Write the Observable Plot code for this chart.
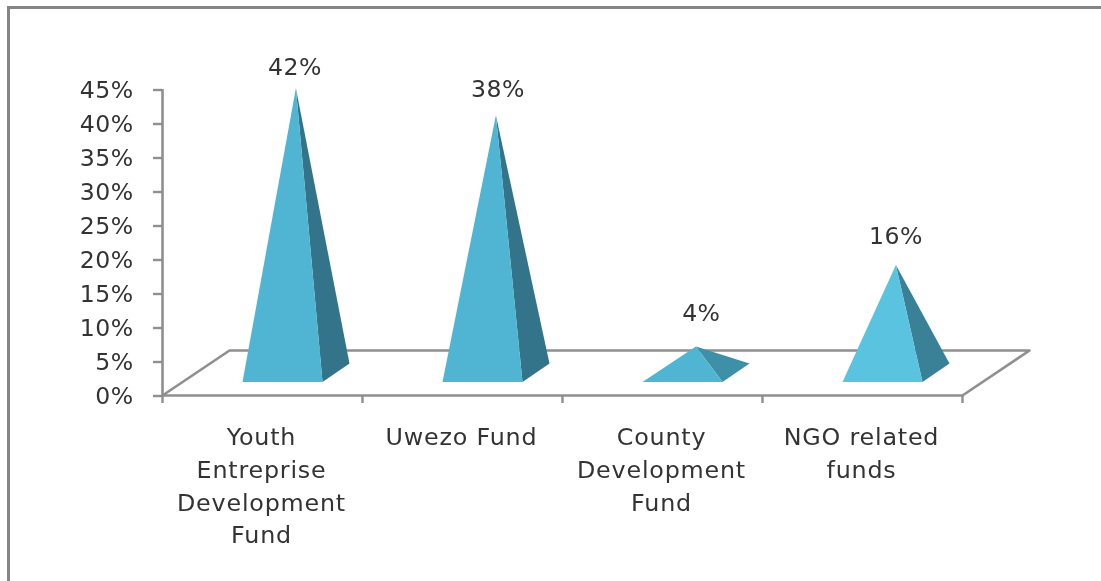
<!DOCTYPE html>
<html>
<head>
<meta charset="utf-8">
<script src="https://cdn.jsdelivr.net/npm/d3@7"></script>
<script src="https://cdn.jsdelivr.net/npm/@observablehq/plot@0.6"></script>
<style>
html,body{margin:0;padding:0;background:#fff;overflow:hidden}
#wrap{position:relative;width:1101px;height:581px;overflow:hidden}
#frame{position:absolute;left:7px;top:6px;width:1200px;height:700px;border-left:3px solid #858585;border-top:3px solid #858585;box-sizing:border-box}
svg{display:block;position:absolute;left:0;top:0;background:transparent!important;filter:blur(0.5px)}
svg text{letter-spacing:0.4px}
svg .cats text{letter-spacing:0.8px}
</style>
</head>
<body>
<div id="wrap"><div id="frame"></div></div>
<script>
const categories = ["Youth\nEntreprise\nDevelopment\nFund", "Uwezo Fund", "County\nDevelopment\nFund", "NGO related\nfunds"];
const values = [42, 38, 4, 16];
const yTicks = [0, 5, 10, 15, 20, 25, 30, 35, 40, 45];
const xTicks = [0, 1, 2, 3, 4];

// 3-D look, expressed in axis units
const depthX = 0.335, depthY = 6.62;
const baseLeft = 0.4, baseRight = 0.8, baseFront = 2, baseBack = 4.7, backRight = 0.935, apexX = 0.667, apexLift = 3.2;
const frontColors = ["#4fb5d3", "#4fb5d3", "#4fb5d3", "#5ac3e0"];
const sideColors = ["#33748a", "#33748a", "#3e90a8", "#3a8198"];
const labelLift = [6.2, 7, 8, 7.4];
const labelNudge = [-0.005, 0.01, 0.027, 0];

const floor = [[0, 0], [depthX, depthY], [4 + depthX, depthY], [4, 0]].map(([x, y]) => ({x, y}));
const faces = values.flatMap((v, i) => {
  const apex = {x: i + apexX, y: v + apexLift};
  const L = {x: i + baseLeft, y: baseFront}, R = {x: i + baseRight, y: baseFront}, B = {x: i + backRight, y: baseBack};
  return [
    ...[R, B, apex].map(p => ({...p, face: `side${i}`, color: sideColors[i]})),
    ...[L, R, apex].map(p => ({...p, face: `front${i}`, color: frontColors[i]}))
  ];
});
const rows = values.map((v, i) => ({i, v, cat: categories[i]}));
const ink = "#333333", axisGrey = "#8f8f8f", fs = 23.6, catFs = 23.8;

const chart = Plot.plot({
  width: 1101, height: 581,
  marginLeft: 162, marginRight: 139, marginTop: 89, marginBottom: 186,
  x: {domain: [0, 4], axis: null},
  y: {domain: [0, 45], axis: null},
  color: {type: "identity"},
  style: {fontFamily: "'DejaVu Sans', sans-serif", fontSize: fs + "px", background: "transparent"},
  marks: [
    Plot.line(floor, {x: "x", y: "y", stroke: axisGrey, strokeWidth: 2.6}),
    Plot.ruleX([0], {y1: 0, y2: 45, stroke: axisGrey, strokeWidth: 2.6}),
    Plot.ruleY([0], {x1: 0, x2: 4, stroke: axisGrey, strokeWidth: 2.6}),
    Plot.axisY({ticks: yTicks, tickFormat: d => d + "%", tickSize: 9, tickPadding: 20, dy: 0.5, stroke: axisGrey, strokeWidth: 2.4, fill: ink, fontSize: fs, label: null}),
    Plot.axisX({ticks: xTicks, tickFormat: () => "", tickSize: 8, stroke: axisGrey, strokeWidth: 2.4, label: null}),
    Plot.line(faces, {x: "x", y: "y", z: "face", fill: "color", stroke: "none", curve: "linear-closed"}),
    Plot.text(rows, {x: d => d.i + apexX + labelNudge[d.i], y: d => d.v + labelLift[d.i], text: d => d.v + "%", fill: ink, fontSize: fs}),
    Plot.text(rows, {x: d => d.i + 0.495, y: () => 0, text: "cat", dy: 26.5, lineAnchor: "top", lineHeight: 1.375, fill: ink, fontSize: catFs, textAnchor: "middle", className: "cats"})
  ]
});
document.getElementById("wrap").appendChild(chart);
</script>
</body>
</html>
